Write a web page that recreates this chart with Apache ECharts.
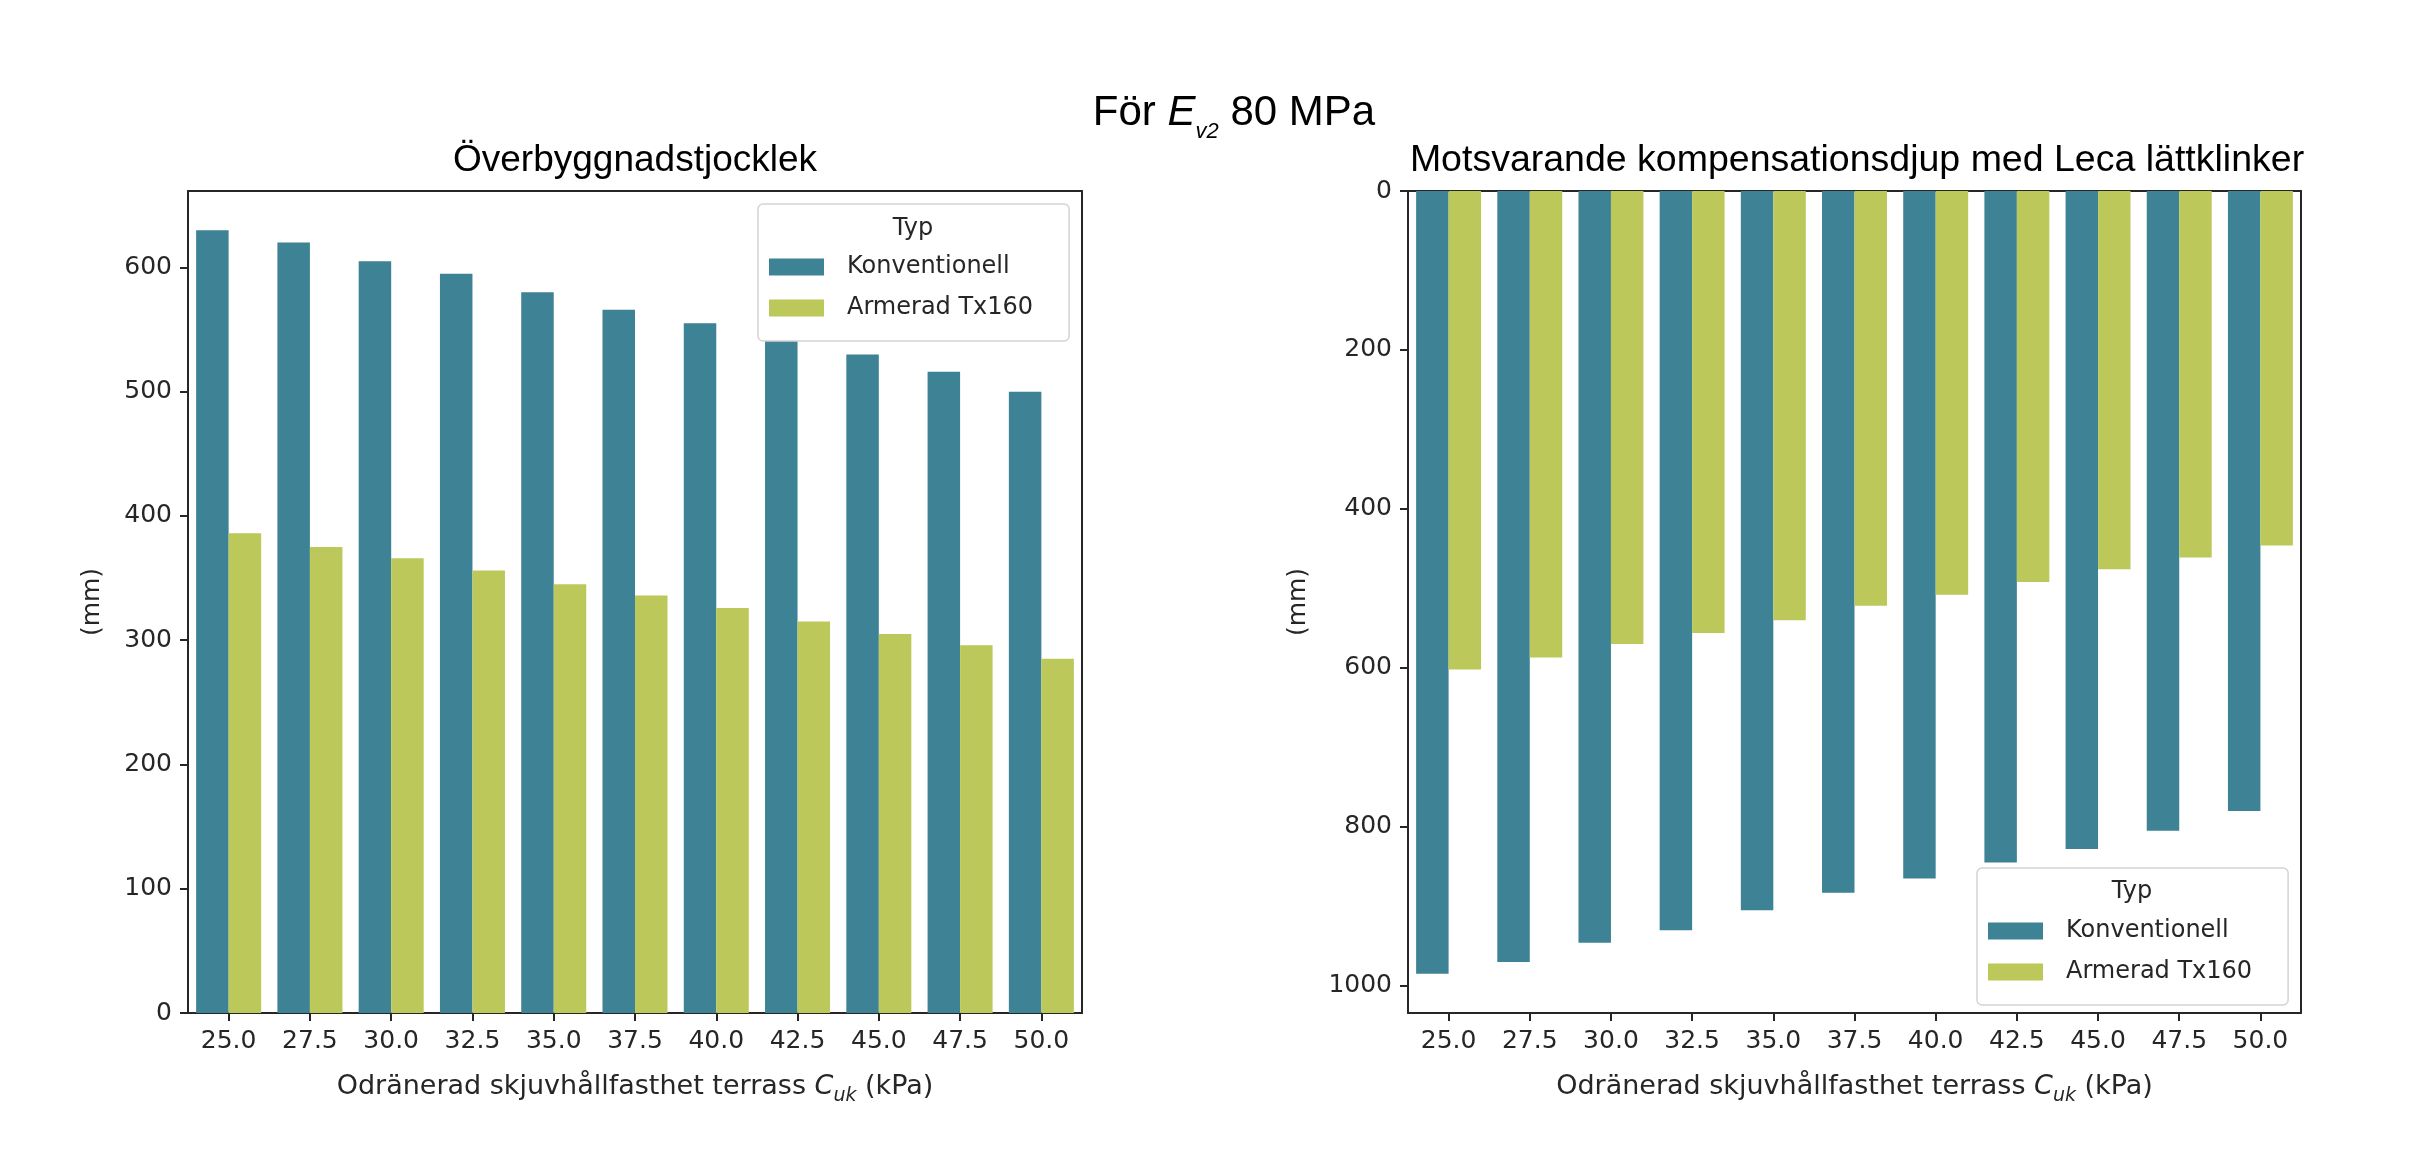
<!DOCTYPE html>
<html>
<head>
<meta charset="utf-8">
<script src="https://cdn.jsdelivr.net/npm/echarts@6/dist/echarts.min.js"></script>
<style>
html,body{margin:0;padding:0;background:#fff;}
#chart{width:2410px;height:1157px;}
</style>
</head>
<body>
<div id="chart"></div>
<script>
// ---- data ----
const categories = ['25.0','27.5','30.0','32.5','35.0','37.5','40.0','42.5','45.0','47.5','50.0'];
const seriesNames = ['Konventionell', 'Armerad Tx160'];
// left panel: Överbyggnadstjocklek (mm)
const thickKonv = [630, 620, 605, 595, 580, 566, 555, 541, 530, 516, 500];
const thickArm  = [386, 375, 366, 356, 345, 336, 326, 315, 305, 296, 285];
// right panel: kompensationsdjup (mm)
const depthKonv = [985, 970, 946, 930, 905, 883, 865, 845, 828, 805, 780];
const depthArm  = [602, 587, 570, 556, 540, 522, 508, 492, 476, 461, 446];
const leftTicks  = [0, 100, 200, 300, 400, 500, 600];
const rightTicks = [0, 200, 400, 600, 800, 1000];

const C_KONV = '#3e8296';
const C_ARM  = '#bdc85b';
const TXT = '#262626';
const DJ = 'DejaVu Sans';
const AR = 'Liberation Sans';

const leftMax  = Math.max(...thickKonv, ...thickArm) * 1.05;
const rightMax = Math.max(...depthKonv, ...depthArm) * 1.05;

const grids = [
  {left: 188, top: 191, width: 894, height: 822},
  {left: 1408, top: 191, width: 893, height: 822}
];

const xName = '{n|Odränerad skjuvhållfasthet terrass }{c|C}{s|uk}{n| (kPa)}';
const xNameRich = {
  n: {fontFamily: DJ, fontSize: 27, color: TXT, lineHeight: 38, verticalAlign: 'middle'},
  c: {fontFamily: DJ, fontSize: 27, fontStyle: 'italic', color: TXT, lineHeight: 38, verticalAlign: 'middle'},
  s: {fontFamily: DJ, fontSize: 19, fontStyle: 'italic', color: TXT, lineHeight: 19, verticalAlign: 'bottom'}
};

function xAxisMain(gi) {
  return {
    type: 'category', gridIndex: gi, data: categories, position: 'bottom',
    axisLine: {show: true, onZero: false, lineStyle: {color: TXT, width: 2}},
    axisTick: {show: true, alignWithLabel: true, length: 8, lineStyle: {color: TXT, width: 2}},
    axisLabel: {fontFamily: DJ, fontSize: 25, color: TXT, margin: 16},
    splitLine: {show: false},
    name: xName, nameLocation: 'middle', nameGap: 55,
    nameTextStyle: {rich: xNameRich}
  };
}
function xAxisFrame(gi) {
  return {
    type: 'category', gridIndex: gi, data: categories, position: 'top',
    axisLine: {show: true, onZero: false, lineStyle: {color: TXT, width: 2}},
    axisTick: {show: false}, axisLabel: {show: false}, splitLine: {show: false}
  };
}
function yAxisMain(gi, max, ticks, inverse, gap) {
  return {
    type: 'value', gridIndex: gi, min: 0, max: max, inverse: inverse, position: 'left',
    axisLine: {show: true, onZero: false, lineStyle: {color: TXT, width: 2}},
    axisTick: {show: true, length: 8, lineStyle: {color: TXT, width: 2}, customValues: ticks},
    axisLabel: {fontFamily: DJ, fontSize: 25, color: TXT, margin: 16, customValues: ticks,
                formatter: v => String(Math.round(v))},
    splitLine: {show: false},
    name: '(mm)', nameLocation: 'middle', nameGap: gap,
    nameTextStyle: {fontFamily: DJ, fontSize: 25, color: TXT}
  };
}
function yAxisFrame(gi, max, inverse) {
  return {
    type: 'value', gridIndex: gi, min: 0, max: max, inverse: inverse, position: 'right',
    axisLine: {show: true, onZero: false, lineStyle: {color: TXT, width: 2}},
    axisTick: {show: false}, axisLabel: {show: false}, splitLine: {show: false}
  };
}

function bar(name, data, color, gi) {
  return {
    type: 'bar', name: name, data: data, xAxisIndex: gi, yAxisIndex: gi,
    barCategoryGap: '20%', barGap: '0%',
    itemStyle: {color: color},
    emphasis: {disabled: true}
  };
}

function legendAt(left, top) {
  return {
    left: left, top: top, orient: 'vertical',
    data: seriesNames, selectedMode: false,
    padding: [51, 36, 21, 11],
    itemWidth: 55, itemHeight: 17, itemGap: 17,
    icon: 'rect',
    textStyle: {fontFamily: DJ, fontSize: 24, color: TXT, padding: [0, 0, 0, 18]},
    backgroundColor: 'rgba(255,255,255,0.8)',
    borderColor: '#d4d4d4', borderWidth: 1.5, borderRadius: 5
  };
}

const chart = echarts.init(document.getElementById('chart'), null, {renderer: 'canvas'});
chart.setOption({
  backgroundColor: '#fff',
  animation: false,
  grid: grids.map(g => Object.assign({outerBoundsMode: 'none', containLabel: false}, g)),
  xAxis: [xAxisMain(0), xAxisMain(1), xAxisFrame(0), xAxisFrame(1)],
  yAxis: [
    yAxisMain(0, leftMax, leftTicks, false, 83),
    yAxisMain(1, rightMax, rightTicks, true, 97),
    yAxisFrame(0, leftMax, false),
    yAxisFrame(1, rightMax, true)
  ],
  legend: [legendAt(758, 204), legendAt(1977, 868)],
  series: [
    bar(seriesNames[0], thickKonv, C_KONV, 0),
    bar(seriesNames[1], thickArm, C_ARM, 0),
    bar(seriesNames[0], depthKonv, C_KONV, 1),
    bar(seriesNames[1], depthArm, C_ARM, 1)
  ],
  graphic: [
    {type: 'text', x: 1234, y: 83, z: 10, style: {
      text: '{n|För }{e|E}{s|v2}{n| 80 MPa}',
      align: 'center', verticalAlign: 'top',
      rich: {
        n: {fontFamily: AR, fontSize: 42, fill: '#000', lineHeight: 60, verticalAlign: 'middle'},
        e: {fontFamily: AR, fontSize: 42, fontStyle: 'italic', fill: '#000', lineHeight: 60, verticalAlign: 'middle'},
        s: {fontFamily: AR, fontSize: 22, fontStyle: 'italic', fill: '#000', lineHeight: 22, verticalAlign: 'bottom'}
      }
    }},
    {type: 'text', x: 635, y: 161, style: {text: 'Överbyggnadstjocklek', font: '37px "Liberation Sans"', fill: '#000', align: 'center', verticalAlign: 'middle'}},
    {type: 'text', x: 1857, y: 161, style: {text: 'Motsvarande kompensationsdjup med Leca lättklinker', font: '37.5px "Liberation Sans"', fill: '#000', align: 'center', verticalAlign: 'middle'}},
    {type: 'text', x: 913, y: 229, z: 10, style: {text: 'Typ', font: '24px "DejaVu Sans"', fill: TXT, align: 'center', verticalAlign: 'middle'}},
    {type: 'text', x: 2132, y: 892, z: 10, style: {text: 'Typ', font: '24px "DejaVu Sans"', fill: TXT, align: 'center', verticalAlign: 'middle'}}
  ]
});
</script>
</body>
</html>
